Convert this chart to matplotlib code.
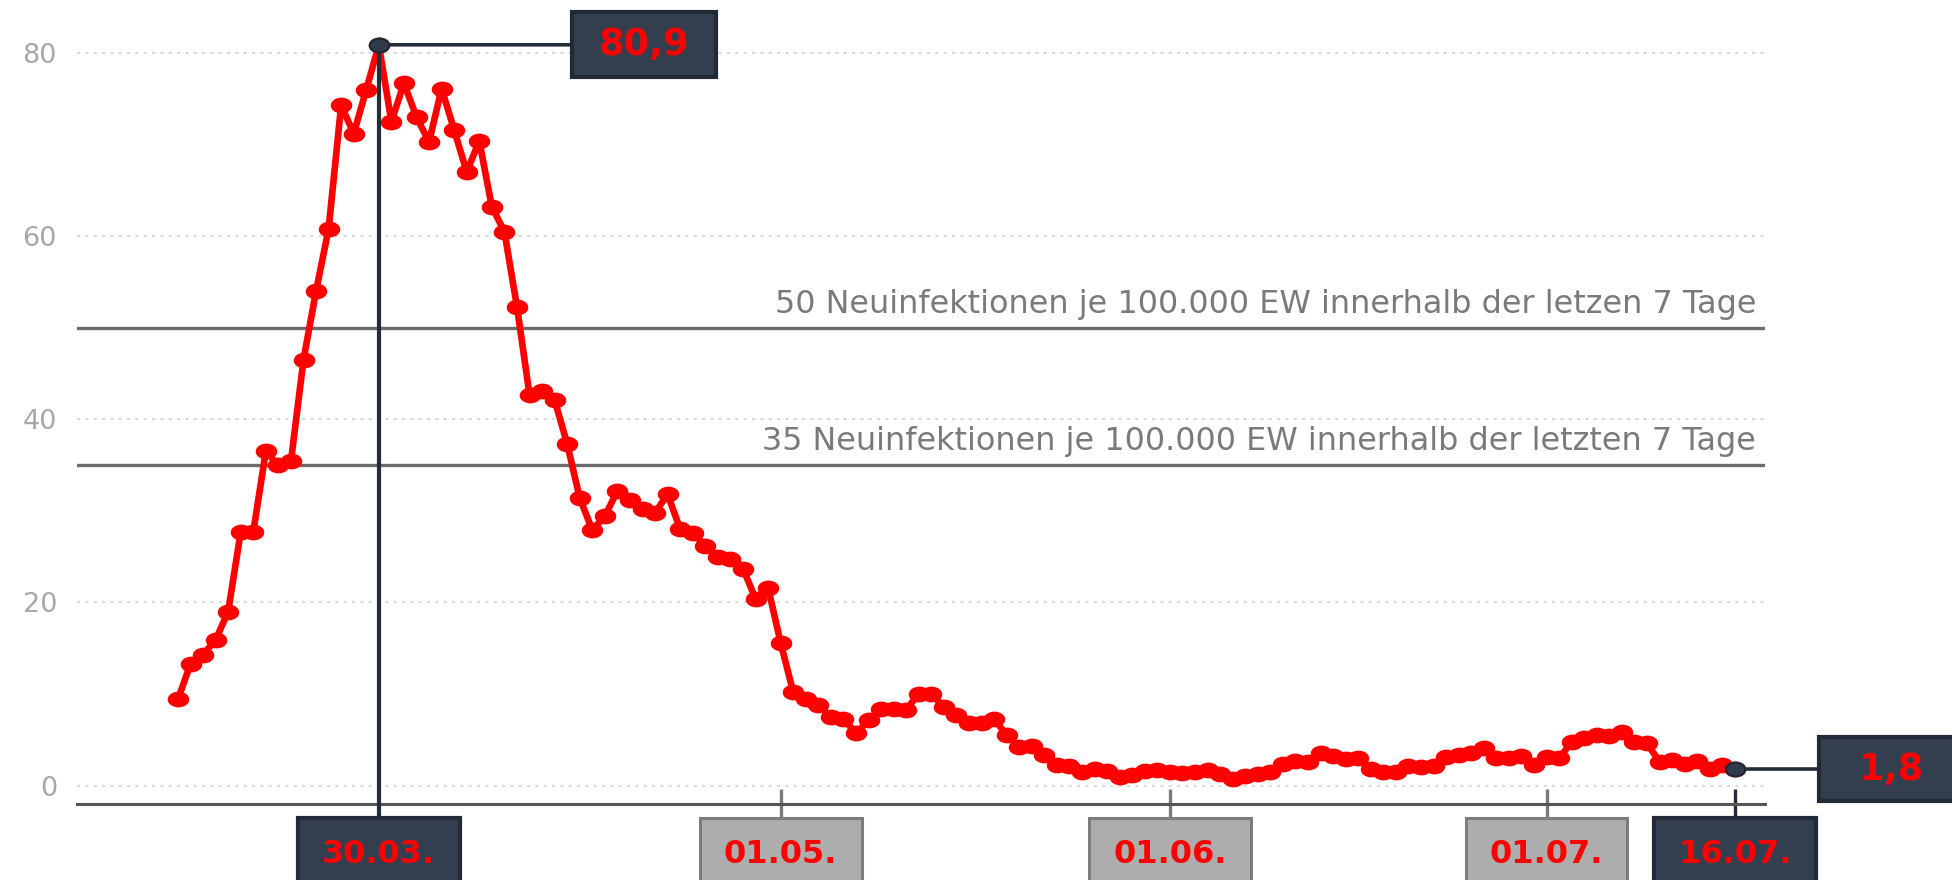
import numpy as np
import matplotlib
matplotlib.use('Agg')
import matplotlib.pyplot as plt
import matplotlib.dates as mdates
from matplotlib.path import Path
from matplotlib.transforms import Affine2D, blended_transform_factory

# ---------------- data ----------------
start_date = np.datetime64('2020-03-14')
incidence = [
    9.4, 13.3, 14.3, 15.9, 19.0,
    27.7, 27.7, 36.5, 35.0, 35.4,
    46.5, 54.0, 60.8, 74.3, 71.2,
    76.0, 80.9, 72.5, 76.7, 73.0,
    70.3, 76.1, 71.6, 67.0, 70.4,
    63.2, 60.5, 52.3, 42.7, 43.1,
    42.1, 37.3, 31.4, 27.9, 29.4,
    32.2, 31.2, 30.2, 29.8, 31.8,
    28.0, 27.6, 26.2, 25.0, 24.7,
    23.7, 20.4, 21.6, 15.6, 10.2,
    9.4, 8.8, 7.5, 7.3, 5.7,
    7.1, 8.4, 8.4, 8.3, 10.0,
    10.0, 8.6, 7.7, 6.8, 6.8,
    7.3, 5.5, 4.2, 4.3, 3.3,
    2.2, 2.1, 1.5, 1.8, 1.6,
    0.9, 1.2, 1.6, 1.7, 1.5,
    1.4, 1.5, 1.7, 1.3, 0.7,
    1.0, 1.3, 1.5, 2.4, 2.7,
    2.6, 3.5, 3.2, 2.9, 3.0,
    1.8, 1.5, 1.5, 2.1, 2.0,
    2.1, 3.1, 3.3, 3.6, 4.1,
    3.0, 3.0, 3.2, 2.2, 3.1,
    3.0, 4.7, 5.2, 5.5, 5.4,
    5.8, 4.7, 4.6, 2.6, 2.8,
    2.4, 2.7, 1.8, 2.2, 1.8,
]
dates = start_date + np.arange(len(incidence))

thresholds = [50, 35]
threshold_labels = [
    "50 Neuinfektionen je 100.000 EW innerhalb der letzen 7 Tage",
    "35 Neuinfektionen je 100.000 EW innerhalb der letzten 7 Tage",
]
yticks = [0, 20, 40, 60, 80]

peak_date = np.datetime64('2020-03-30')
peak_value = 80.9
peak_label = "80,9"
last_date = np.datetime64('2020-07-16')
last_value = 1.8
last_label = "1,8"

box_dates = [np.datetime64('2020-03-30'), np.datetime64('2020-05-01'),
             np.datetime64('2020-06-01'), np.datetime64('2020-07-01'),
             np.datetime64('2020-07-16')]
box_labels = ['30.03.', '01.05.', '01.06.', '01.07.', '16.07.']
box_dark = [True, False, False, False, True]

# ---------------- style ----------------
W, H = 1952, 880
RED = '#ff0000'
DARK = '#333f4f'
DARK_EDGE = '#212a36'
GRAY_BOX = '#adadad'
GRAY_EDGE = '#7d7d7d'

fig = plt.figure(figsize=(W / 100, H / 100), dpi=100)
ax_left, ax_right, ax_bottom_px = 77, 1765, 804
ax = fig.add_axes([ax_left / W, (H - ax_bottom_px) / H,
                   (ax_right - ax_left) / W, ax_bottom_px / H])

x0 = mdates.date2num(start_date)
ax.set_xlim(x0 - 8.04, x0 + 126.4)
ax.set_ylim(-2.02, 85.79)

for s in ['top', 'right', 'left']:
    ax.spines[s].set_visible(False)
ax.spines['bottom'].set_color('#555555')
ax.spines['bottom'].set_linewidth(2.2)
ax.set_xticks([])
ax.set_yticks(yticks)
ax.set_yticklabels([str(v) for v in yticks])
ax.tick_params(axis='y', length=0, pad=14.4, labelsize=19.5, labelcolor='#a8a8a8')

for v in yticks:
    ax.axhline(v, color='#dadada', lw=1.5, ls=(0, (1.5, 2.5)), zorder=0)

# thresholds
blend = blended_transform_factory(ax.transAxes, ax.transData)
thr_texts = []
for v, lab in zip(thresholds, threshold_labels):
    ax.axhline(v, color='#6c6c6c', lw=2.4, zorder=1)
    t = ax.text(0.9947, v + 1.64, lab, transform=blend, ha='right', va='baseline',
                fontsize=19, color='#7a7a7a', family='DejaVu Sans')
    thr_texts.append(t)

# elliptical marker (source image is horizontally stretched)
ell = Affine2D().scale(1.4, 1.0).transform_path(Path.unit_circle())

ax.plot(dates, incidence, color=RED, lw=4.8, marker=ell, ms=14.5,
        mfc=RED, mec=RED, zorder=3, solid_joinstyle='round')

# peak connector
ybot = ax.get_ylim()[0]
ax.plot([peak_date, peak_date], [peak_value, ybot - 1.8], color='#232d3a',
        lw=3, clip_on=False, zorder=4)

ax.annotate(peak_label, xy=(peak_date, peak_value), xytext=(191, 0),
            textcoords='offset points', ha='center', va='center',
            fontsize=26.5, fontweight='bold', color=RED, family='DejaVu Sans',
            bbox=dict(boxstyle='square,pad=0.73', fc=DARK, ec=DARK_EDGE, lw=3,
                      mutation_aspect=0.52),
            arrowprops=dict(arrowstyle='-', color='#232d3a', lw=2.6,
                            shrinkA=0, shrinkB=0),
            zorder=4, annotation_clip=False)

ax.annotate(last_label, xy=(last_date, last_value), xytext=(113, 0),
            textcoords='offset points', ha='center', va='center',
            fontsize=26.5, fontweight='bold', color=RED, family='DejaVu Sans',
            bbox=dict(boxstyle='square,pad=1.1', fc=DARK, ec=DARK_EDGE, lw=3,
                      mutation_aspect=0.33),
            arrowprops=dict(arrowstyle='-', color='#232d3a', lw=2.6,
                            shrinkA=0, shrinkB=0),
            zorder=4, annotation_clip=False)

for d, v in [(peak_date, peak_value), (last_date, last_value)]:
    ax.plot([d], [v], marker=ell, ms=14, mfc='#2f3b4b', mec='#1f2833',
            mew=1.5, zorder=6, clip_on=False)

# date boxes below the axis
bt = blended_transform_factory(ax.transData, fig.transFigure)
xt = ax.get_xaxis_transform()
for d, lab, dark in zip(box_dates, box_labels, box_dark):
    if not (dark and d == peak_date):
        ax.vlines(d, (ax_bottom_px - 789) / ax_bottom_px, (ax_bottom_px - 820) / ax_bottom_px,
                  transform=xt, colors='#232d3a' if dark else '#7a7a7a',
                  lw=2.4, clip_on=False, zorder=2)
    ax.text(d, (H - 854) / H, lab, transform=bt, ha='center', va='center',
            fontsize=23, fontweight='bold', color=RED, family='DejaVu Sans',
            bbox=dict(boxstyle='square,pad=0.76',
                      fc=DARK if dark else GRAY_BOX,
                      ec=DARK_EDGE if dark else GRAY_EDGE,
                      lw=3 if dark else 2.2, mutation_aspect=0.83),
            zorder=7, clip_on=False)

# fit threshold label width to reference (~981 px)
fig.canvas.draw()
r = fig.canvas.get_renderer()
wcur = thr_texts[0].get_window_extent(r).width
fs = 19 * 981 / wcur
for t in thr_texts:
    t.set_fontsize(fs)

fig.savefig('out.png', dpi=100)
